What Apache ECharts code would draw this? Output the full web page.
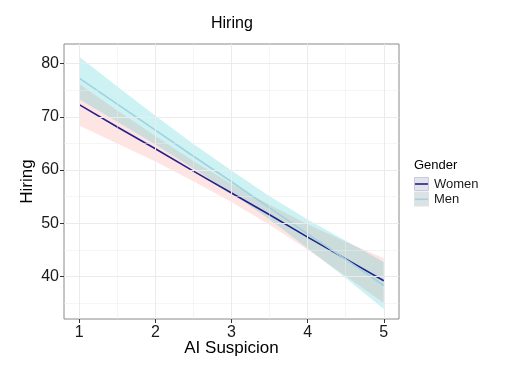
<!DOCTYPE html>
<html>
<head>
<meta charset="utf-8">
<script src="https://cdn.jsdelivr.net/npm/echarts@6/dist/echarts.min.js"></script>
<style>
html,body{margin:0;padding:0;background:#fff;}
#chart{width:509px;height:382px;}
</style>
</head>
<body>
<div id="chart"></div>
<script>
// ---- data ----
const xs = [1, 1.5, 2, 2.5, 3, 3.5, 4, 4.5, 5];
const womenFit   = [72.3, 68.1, 64.0, 59.8, 55.7, 51.6, 47.4, 43.3, 39.2];
const womenLower = [68.4, 65.0, 61.6, 57.9, 54.0, 49.7, 45.0, 40.1, 35.0];
const womenUpper = [76.2, 71.2, 66.4, 61.7, 57.4, 53.5, 49.8, 46.5, 43.4];
const menFit     = [77.3, 72.4, 67.5, 62.6, 57.8, 52.9, 48.0, 43.2, 38.3];
const menLower   = [73.3, 69.1, 64.8, 60.3, 55.7, 50.7, 45.3, 39.7, 33.9];
const menUpper   = [81.3, 75.7, 70.2, 64.9, 59.9, 55.1, 50.7, 46.7, 42.7];
const xTicks = [1, 2, 3, 4, 5];
const yTicks = [40, 50, 60, 70, 80];
const xMinor = [1.5, 2.5, 3.5, 4.5];
const yMinor = [35, 45, 55, 65, 75];
const groups = ['Women', 'Men'];

const FONT = 'Liberation Sans, Arial, sans-serif';
const chart = echarts.init(document.getElementById('chart'), null, {renderer: 'canvas'});

function band(name, lower, upper, color) {
  return {
    type: 'custom',
    name: name + ' CI',
    silent: true,
    data: xs.map((x, i) => [x, lower[i], upper[i]]),
    encode: {x: 0, y: [1, 2]},
    renderItem: function (params, api) {
      if (params.dataIndex !== 0) return null;
      const pts = [];
      for (let i = 0; i < xs.length; i++) pts.push(api.coord([xs[i], upper[i]]));
      for (let i = xs.length - 1; i >= 0; i--) pts.push(api.coord([xs[i], lower[i]]));
      return {type: 'polygon', shape: {points: pts}, style: {fill: color, stroke: null}};
    }
  };
}
function fitLine(name, fit, color) {
  return {
    type: 'line', name: name, silent: true,
    data: xs.map((x, i) => [x, fit[i]]),
    showSymbol: false, symbol: 'none',
    lineStyle: {color: color, width: 1.6},
    itemStyle: {color: color}
  };
}

const gridLines = [];
xTicks.forEach(v => gridLines.push({xAxis: v, lineStyle: {width: 1}}));
xMinor.forEach(v => gridLines.push({xAxis: v, lineStyle: {width: 0.5}}));
yTicks.forEach(v => gridLines.push({yAxis: v, lineStyle: {width: 1}}));
yMinor.forEach(v => gridLines.push({yAxis: v, lineStyle: {width: 0.5}}));

const option = {
  animation: false,
  backgroundColor: '#ffffff',
  textStyle: {fontFamily: FONT},
  title: {
    text: 'Hiring', left: 211, top: 16, padding: 0,
    textStyle: {fontSize: 16, fontWeight: 'normal', color: '#000', fontFamily: FONT}
  },
  grid: {left: 64, right: 110, top: 44, bottom: 63, show: true,
         borderColor: '#8a8a8a', borderWidth: 1, backgroundColor: '#fff'},
  xAxis: {
    type: 'value', min: 0.8, max: 5.2,
    splitLine: {show: false},
    axisLine: {show: false},
    axisTick: {show: true, customValues: xTicks, length: 4, lineStyle: {color: '#333'}},
    axisLabel: {customValues: xTicks, fontSize: 16, color: '#1a1a1a', margin: 6, fontFamily: FONT},
    name: 'AI Suspicion', nameLocation: 'middle', nameGap: 21, nameMoveOverlap: false,
    nameTextStyle: {fontSize: 17, color: '#000', fontFamily: FONT}
  },
  yAxis: {
    type: 'value', min: 32, max: 83.7,
    splitLine: {show: false},
    axisLine: {show: false},
    axisTick: {show: true, customValues: yTicks, length: 4, lineStyle: {color: '#333'}},
    axisLabel: {customValues: yTicks, fontSize: 16, color: '#1a1a1a', margin: 5, fontFamily: FONT},
    name: 'Hiring', nameLocation: 'middle', nameGap: 28, nameMoveOverlap: false,
    nameTextStyle: {fontSize: 17, color: '#000', fontFamily: FONT}
  },
  series: [
    {
      type: 'scatter', name: 'grid', data: [], silent: true,
      markLine: {
        silent: true, symbol: ['none', 'none'], label: {show: false},
        lineStyle: {color: '#ebebeb', type: 'solid'},
        emphasis: {disabled: true},
        data: gridLines
      }
    },
    band(groups[0], womenLower, womenUpper, 'rgba(248,118,109,0.2)'),
    fitLine(groups[0], womenFit, '#25208c'),
    band(groups[1], menLower, menUpper, 'rgba(0,191,196,0.2)'),
    fitLine(groups[1], menFit, '#a0d2df')
  ],
  graphic: [
    {type: 'text', x: 414, y: 165, style: {text: 'Gender', fontSize: 13, fontFamily: FONT, fill: '#000', verticalAlign: 'middle'}},
    {type: 'rect', shape: {x: 414.5, y: 177.5, width: 14, height: 13}, style: {fill: '#e3e3ea', stroke: '#c9c9e3', lineWidth: 1}},
    {type: 'line', shape: {x1: 415, y1: 184, x2: 428, y2: 184}, style: {stroke: '#25208c', lineWidth: 1.6}},
    {type: 'rect', shape: {x: 414.5, y: 192, width: 14, height: 14}, style: {fill: '#dde2e4', stroke: '#dde2e4', lineWidth: 1}},
    {type: 'line', shape: {x1: 415, y1: 199.3, x2: 428, y2: 199.3}, style: {stroke: '#a0d2df', lineWidth: 1.6}},
    {type: 'text', x: 434, y: 184, style: {text: groups[0], fontSize: 13, fontFamily: FONT, fill: '#1a1a1a', verticalAlign: 'middle'}},
    {type: 'text', x: 434, y: 199.3, style: {text: groups[1], fontSize: 13, fontFamily: FONT, fill: '#1a1a1a', verticalAlign: 'middle'}}
  ]
};
chart.setOption(option);
</script>
</body>
</html>
